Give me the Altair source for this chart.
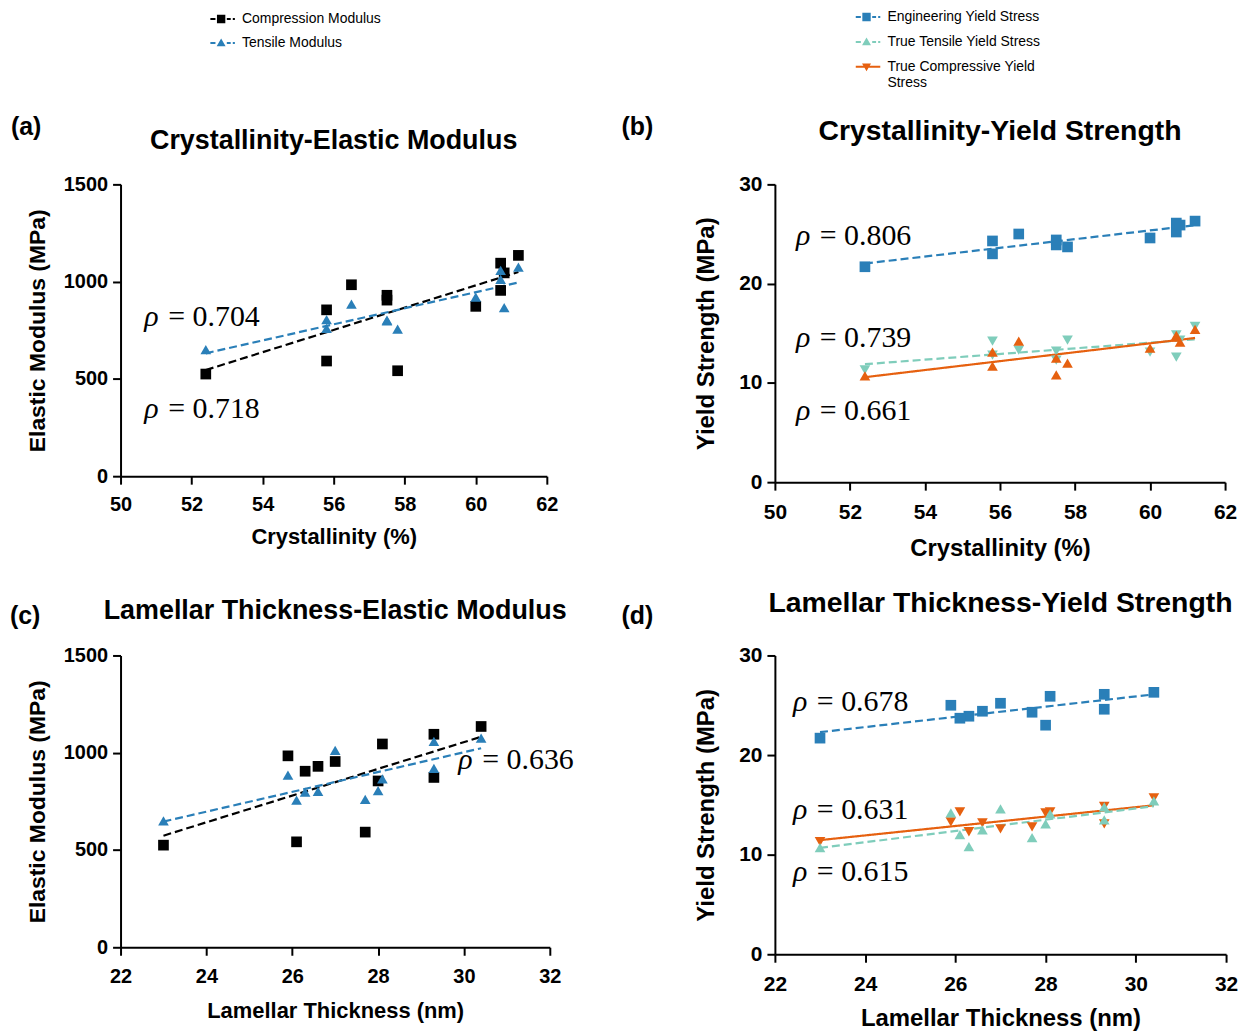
import altair as alt
import pandas as pd

# ---------------- data (one entry per sample) ----------------
crystallinity = [52.4, 55.8, 55.8, 56.5, 57.5, 57.5, 57.8, 60.0, 60.7, 60.7, 60.8, 61.2]
lamellar_thickness = [23.0, 27.7, 28.0, 25.9, 26.3, 26.6, 26.1, 29.3, 27.0, 29.3, 28.1, 30.4]
compression_modulus = [525, 592, 855, 984, 905, 930, 542, 873, 955, 1095, 1045, 1135]
tensile_modulus = [650, 760, 805, 885, 798, 802, 756, 920, 1012, 1058, 866, 1075]
engineering_yield = [21.7, 24.3, 23.0, 25.0, 23.9, 24.4, 23.7, 24.6, 25.2, 26.1, 25.9, 26.3]
true_tensile_yield = [10.7, 11.7, 13.1, 14.2, 10.8, 12.5, 12.0, 13.5, 14.6, 14.8, 14.1, 15.4]
true_compressive_yield = [11.3, 12.8, 14.2, 13.3, 12.3, 13.2, 14.3, 13.1, 12.6, 14.85, 14.3, 15.7]

modulus_series = ["Compression Modulus", "Tensile Modulus"]
yield_series = ["Engineering Yield Stress", "True Tensile Yield Stress", "True Compressive Yield Stress"]

x_ticks_cryst = [50, 52, 54, 56, 58, 60, 62]
x_ticks_lam = [22, 24, 26, 28, 30, 32]
y_ticks_mod = [0, 500, 1000, 1500]
y_ticks_yield = [0, 10, 20, 30]

rho_a = ["0.704", "0.718"]
rho_b = ["0.806", "0.739", "0.661"]
rho_c = ["0.636"]
rho_d = ["0.678", "0.631", "0.615"]

# annotation anchors (data units) for the rho labels
rho_a_pos = ([50.67, 50.67], [818, 344])
rho_b_pos = ([50.56, 50.56, 50.56], [24.75, 14.55, 7.2])
rho_c_pos = ([29.87], [963])
rho_d_pos = ([22.4, 22.4, 22.4], [25.3, 14.45, 8.3])

# ---------------- styling ----------------
BLACK = "#000000"
BLUE = "#2a7fb8"
TEAL = "#7fcdbb"
ORANGE = "#e6600f"
SANS = "Liberation Sans"
SERIF = "Liberation Serif"
DASH = [8, 4]
SOLID = [1, 0]

# legend symbols: marker with line segments (unit = symbol radius), all wound the same way
_dl = "M-1.8,-0.17L-0.95,-0.17L-0.95,0.17L-1.8,0.17Z"
_dr = "M0.95,-0.17L1.6,-0.17L1.6,0.17L0.95,0.17Z"
_dot = "M1.95,-0.17L2.3,-0.17L2.3,0.17L1.95,0.17Z"
_solid = "M-1.8,-0.17L2.3,-0.17L2.3,0.17L-1.8,0.17Z"
_sq = "M-0.7,-0.7L0.7,-0.7L0.7,0.7L-0.7,0.7Z"
_tu = "M0,-0.75L0.75,0.55L-0.75,0.55Z"
_td = "M0,0.75L-0.75,-0.55L0.75,-0.55Z"
SYM_SQ_DASH = _dl + _sq + _dr + _dot
SYM_TU_DASH = _dl + _tu + _dr + _dot
SYM_TD_SOLID = _solid + _td


def long_df(xvals, series_names, series_values):
    rows = []
    for name, vals in zip(series_names, series_values):
        for xv, yv in zip(xvals, vals):
            rows.append({"x": xv, "y": yv, "series": name})
    return pd.DataFrame(rows)


def text_layer(text, x, y, size):
    return alt.Chart(pd.DataFrame({"t": [text]})).mark_text(
        align="left" if text.startswith("(") else "center", baseline="middle",
        font=SANS, fontSize=size, fontWeight="bold", color="black"
    ).encode(x=alt.value(x), y=alt.value(y), text="t:N")


def make_panel(df, p):
    xenc = alt.X("x:Q", scale=alt.Scale(domain=p["xdom"], nice=False, zero=False),
                 axis=alt.Axis(values=p["xticks"], title=p["xtitle"], labelFontSize=p["lfs"], format="d",
                               titleFontSize=p["tfs_x"], labelPadding=p["lp"], titlePadding=p["xtp"],
                               labelFlush=False, labelOverlap=False))
    yenc = alt.Y("y:Q", scale=alt.Scale(domain=p["ydom"], nice=False, zero=True),
                 axis=alt.Axis(values=p["yticks"], title=p["ytitle"], labelFontSize=p["lfs"], format="d",
                               titleFontSize=p["tfs_y"], labelPadding=5, titlePadding=p["ytp"],
                               labelFlush=False, labelOverlap=False))
    dom = p["domain"]
    lines = alt.Chart(df).transform_regression("x", "y", groupby=["series"]).mark_line(
        strokeWidth=2.2
    ).encode(
        x=xenc, y=yenc,
        color=alt.Color("series:N", scale=alt.Scale(domain=dom, range=p["colors"]), legend=None),
        strokeDash=alt.StrokeDash("series:N", scale=alt.Scale(domain=dom, range=p["dashes"]), legend=None),
    )
    points = alt.Chart(df).mark_point(filled=True, size=115, opacity=1, strokeWidth=0).encode(
        x=xenc, y=yenc,
        color=alt.Color("series:N", scale=alt.Scale(domain=dom, range=p["colors"]), legend=None),
        shape=alt.Shape("series:N", scale=alt.Scale(domain=dom, range=p["shapes"]), legend=None),
    )
    rx, ry = p["rho_pos"]
    rdf = pd.DataFrame({"x": rx, "y": ry, "r": ["ρ"] * len(rx), "v": ["= " + v for v in p["rho"]]})
    rho1 = alt.Chart(rdf).mark_text(align="left", baseline="middle", font=SERIF, fontSize=30,
                                    fontStyle="italic", color="black").encode(x=xenc, y=yenc, text="r:N")
    rho2 = alt.Chart(rdf).mark_text(align="left", baseline="middle", font=SERIF, fontSize=30,
                                    dx=24, color="black").encode(x=xenc, y=yenc, text="v:N")
    layers = [lines, points, rho1, rho2,
              text_layer(p["label"], p["label_xy"][0], p["label_xy"][1], 25),
              text_layer(p["title"], p["width"] / 2, p["title_y"], p["title_fs"])]
    if "legend" in p:
        L = p["legend"]
        kw = dict(title=None, orient="none", legendX=L["x"], legendY=L["y"], labelFont=SANS,
                  labelFontSize=14, labelColor="black", symbolSize=144, symbolStrokeWidth=0,
                  labelOffset=14, rowPadding=L["rowpad"], padding=0, labelLimit=400)
        if "labelExpr" in L:
            kw["labelExpr"] = L["labelExpr"]
        leg = alt.Legend(**kw)
        legend_layer = alt.Chart(df).transform_filter("false").mark_point(
            filled=True, size=144, opacity=1
        ).encode(
            x=xenc, y=yenc,
            color=alt.Color("series:N", scale=alt.Scale(domain=dom, range=L["colors"]), legend=leg),
            shape=alt.Shape("series:N", scale=alt.Scale(domain=dom, range=L["paths"]), legend=leg),
        )
        layers.append(legend_layer)
    return alt.layer(*layers).resolve_scale(
        color="independent", shape="independent", strokeDash="independent"
    ).properties(width=p["width"], height=p["height"])


df_a = long_df(crystallinity, modulus_series, [compression_modulus, tensile_modulus])
df_c = long_df(lamellar_thickness, modulus_series, [compression_modulus, tensile_modulus])
order_b = [yield_series[0], yield_series[2], yield_series[1]]
df_b = long_df(crystallinity, order_b, [engineering_yield, true_compressive_yield, true_tensile_yield])
df_d = long_df(lamellar_thickness, order_b, [engineering_yield, true_compressive_yield, true_tensile_yield])

mod_common = dict(domain=modulus_series, colors=[BLACK, BLUE], shapes=["square", "triangle-up"],
                  dashes=[DASH, DASH], ydom=[0, 1500], yticks=y_ticks_mod, ytitle="Elastic Modulus (MPa)",
                  lfs=20, tfs_x=22, tfs_y=23, xtp=13, ytp=14, title_fs=27, lp=10)
yld_common = dict(domain=yield_series, ydom=[0, 30], yticks=y_ticks_yield, ytitle="Yield Strength (MPa)",
                  lfs=21, tfs_x=24, tfs_y=24, xtp=13, ytp=20, title_fs=28.5, lp=11)

pa = make_panel(df_a, dict(mod_common, xdom=[50, 62], xticks=x_ticks_cryst, xtitle="Crystallinity (%)",
                           width=428, height=293, rho=rho_a, rho_pos=rho_a_pos, label="(a)",
                           label_xy=(-110, -58), title="Crystallinity-Elastic Modulus", title_y=-44,
                           legend=dict(x=94, y=-173, rowpad=10, colors=[BLACK, BLUE],
                                       paths=[SYM_SQ_DASH, SYM_TU_DASH])))
pb = make_panel(df_b, dict(yld_common, xdom=[50, 62], xticks=x_ticks_cryst, xtitle="Crystallinity (%)",
                           colors=[BLUE, ORANGE, TEAL], shapes=["square", "triangle-up", "triangle-down"],
                           dashes=[DASH, SOLID, DASH], xtp=15,
                           width=452, height=299, rho=rho_b, rho_pos=rho_b_pos, label="(b)",
                           label_xy=(-154, -58), title="Crystallinity-Yield Strength", title_y=-54,
                           legend=dict(x=85, y=-175, rowpad=11, colors=[BLUE, TEAL, ORANGE],
                                       paths=[SYM_SQ_DASH, SYM_TU_DASH, SYM_TD_SOLID],
                                       labelExpr="datum.label == 'True Compressive Yield Stress' ? ['True Compressive Yield', 'Stress'] : datum.label")))
pc = make_panel(df_c, dict(mod_common, xdom=[22, 32], xticks=x_ticks_lam, xtitle="Lamellar Thickness (nm)",
                           lp=11, xtp=15,
                           width=431, height=293, rho=rho_c, rho_pos=rho_c_pos, label="(c)",
                           label_xy=(-111, -40), title="Lamellar Thickness-Elastic Modulus", title_y=-45))
pd_ = make_panel(df_d, dict(yld_common, xdom=[22, 32], xticks=x_ticks_lam, xtitle="Lamellar Thickness (nm)",
                            colors=[BLUE, TEAL, ORANGE], shapes=["square", "triangle-up", "triangle-down"],
                            dashes=[DASH, DASH, SOLID],
                            width=453, height=300, rho=rho_d, rho_pos=rho_d_pos, label="(d)",
                            label_xy=(-154, -40), title="Lamellar Thickness-Yield Strength", title_y=-53))

chart = alt.concat(pa, pb, pc, pd_, columns=2, align="each", spacing={"row": 28, "column": 47}).resolve_scale(
    color="independent", shape="independent", strokeDash="independent"
).configure_view(stroke=None).configure_axis(
    domainColor="black", domainWidth=2, tickColor="black", tickWidth=2, tickSize=8, grid=False,
    labelFont=SANS, labelFontWeight="bold", labelColor="black",
    titleFont=SANS, titleFontWeight="bold", titleColor="black"
).properties(padding={"left": 2, "top": 0, "right": 5, "bottom": 5})

chart.save("out.html", embed_options={"renderer": "svg", "actions": False})
